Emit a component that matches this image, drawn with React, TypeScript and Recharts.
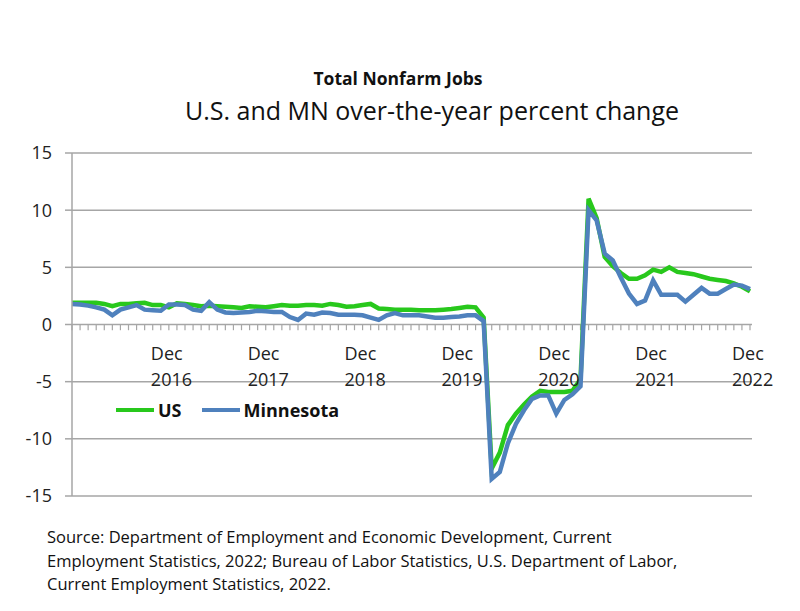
import { CartesianGrid, Legend, Line, LineChart, ReferenceDot, ReferenceLine, XAxis, YAxis } from "recharts"

const FONT = "'Open Sans', sans-serif"

const monthNames = ["Jan", "Feb", "Mar", "Apr", "May", "Jun", "Jul", "Aug", "Sep", "Oct", "Nov", "Dec"]
const years = [2016, 2017, 2018, 2019, 2020, 2021, 2022]
const months = ["Dec 2015", ...years.flatMap((y) => monthNames.map((m) => `${m} ${y}`))]

// over-the-year percent change, Dec 2015 .. Dec 2022
const us = [
  1.9, 1.9, 1.9, 1.9, 1.8, 1.6, 1.8, 1.8, 1.85, 1.9, 1.7, 1.7,
  1.5, 1.85, 1.8, 1.7, 1.6, 1.65, 1.6, 1.55, 1.5, 1.45, 1.6, 1.55,
  1.5, 1.6, 1.7, 1.65, 1.65, 1.7, 1.7, 1.65, 1.8, 1.7, 1.55, 1.6,
  1.7, 1.8, 1.4, 1.35, 1.3, 1.3, 1.3, 1.25, 1.25, 1.25, 1.3, 1.35,
  1.45, 1.55, 1.5, 0.6, -12.6, -11.2, -8.8, -7.8, -7.0, -6.3, -5.8, -5.9,
  -5.9, -5.9, -5.8, -4.8, 11.0, 9.3, 5.9, 5.1, 4.5, 4.0, 4.0, 4.3,
  4.8, 4.6, 5.0, 4.6, 4.5, 4.4, 4.2, 4.0, 3.9, 3.8, 3.6, 3.3,
  2.9,
]

const mn = [
  1.8, 1.75, 1.65, 1.5, 1.3, 0.8, 1.3, 1.5, 1.7, 1.3, 1.25, 1.2,
  1.75, 1.75, 1.7, 1.3, 1.2, 1.95, 1.3, 1.05, 1.0, 1.05, 1.1, 1.2,
  1.15, 1.1, 1.1, 0.65, 0.4, 0.95, 0.85, 1.05, 1.0, 0.85, 0.85, 0.85,
  0.8, 0.6, 0.4, 0.8, 1.0, 0.8, 0.8, 0.8, 0.7, 0.6, 0.6, 0.65,
  0.7, 0.8, 0.8, 0.3, -13.5, -12.9, -10.4, -8.7, -7.5, -6.5, -6.2, -6.2,
  -7.8, -6.6, -6.1, -5.4, 10.0, 9.1, 6.2, 5.6, 4.1, 2.7, 1.8, 2.1,
  3.85, 2.6, 2.6, 2.6, 2.0, 2.6, 3.2, 2.7, 2.7, 3.1, 3.5, 3.4,
  3.1,
]

const yTicks = [-15, -10, -5, 0, 5, 10, 15]
const labelMonths = ["Dec 2016", "Dec 2017", "Dec 2018", "Dec 2019", "Dec 2020", "Dec 2021", "Dec 2022"]

const sourceLines = [
  "Source: Department of Employment and Economic Development, Current",
  "Employment Statistics, 2022; Bureau of Labor Statistics, U.S. Department of Labor,",
  "Current Employment Statistics, 2022.",
]

const data = months.map((month, i) => ({ month, us: us[i], mn: mn[i] }))

const GREEN = "#28c81c"
const BLUE = "#4f81bd"
const GRID = "#a6a6a6"

function MonthLabel(props: any) {
  const { viewBox, text } = props
  const [m, y] = text.split(" ")
  const x = viewBox.x - 18
  return (
    <text x={x} y={viewBox.y + 35} fontFamily={FONT} fontSize={18} fill="#222">
      <tspan x={x}>{m}</tspan>
      <tspan x={x} dy={26}>{y}</tspan>
    </text>
  )
}

function LegendContent() {
  const items = [
    { name: "US", color: GREEN },
    { name: "Minnesota", color: BLUE },
  ]
  return (
    <div style={{ display: "flex", alignItems: "center", fontFamily: FONT, fontWeight: 700, fontSize: 18, color: "#111" }}>
      {items.map((it) => (
        <div key={it.name} style={{ display: "flex", alignItems: "center", marginRight: 20 }}>
          <span style={{ display: "inline-block", width: 38, height: 4, background: it.color, marginRight: 4 }} />
          <span>{it.name}</span>
        </div>
      ))}
    </div>
  )
}

export default function App() {
  return (
    <div style={{ position: "absolute", left: 0, top: 0, width: 800, height: 611, background: "#fff" }}>
      <LineChart
        width={800}
        height={611}
        data={data}
        margin={{ top: 153, right: 48, bottom: 115, left: 12 }}
      >
        <CartesianGrid horizontal vertical={false} stroke={GRID} strokeWidth={1.5} />
        <XAxis dataKey="month" hide padding={{ left: 0, right: 2 }} />
        <YAxis
          domain={[-15, 15]}
          ticks={yTicks}
          width={60}
          stroke={GRID}
          strokeWidth={1.5}
          tickSize={7}
          tickMargin={13}
          tick={{ fill: "#222", fontSize: 18, fontFamily: FONT }}
        />
        {months.map((m) => (
          <ReferenceLine
            key={m}
            segment={[{ x: m, y: 0 }, { x: m, y: -0.5 }]}
            stroke={GRID}
            strokeWidth={1.2}
          />
        ))}
        {labelMonths.map((m) => (
          <ReferenceDot
            key={m}
            x={m}
            y={0}
            r={0}
            fill="none"
            stroke="none"
            label={(p: any) => <MonthLabel {...p} text={m} />}
          />
        ))}
        <Line type="linear" dataKey="us" name="US" stroke={GREEN} strokeWidth={4.5} dot={false} isAnimationActive={false} />
        <Line type="linear" dataKey="mn" name="Minnesota" stroke={BLUE} strokeWidth={4.5} dot={false} isAnimationActive={false} />
        <Legend
          layout="horizontal"
          verticalAlign="middle"
          align="center"
          content={<LegendContent />}
          wrapperStyle={{ left: 116, top: 398, width: "auto" }}
        />
      </LineChart>
      <svg width={800} height={611} style={{ position: "absolute", left: 0, top: 0, pointerEvents: "none" }}>
        <text x={398} y={85} textAnchor="middle" fontFamily={FONT} fontWeight={700} fontSize={17.5} fill="#111">
          Total Nonfarm Jobs
        </text>
        <text x={432} y={120} textAnchor="middle" fontFamily={FONT} fontSize={25} fill="#111">
          U.S. and MN over-the-year percent change
        </text>
        {sourceLines.map((line, i) => (
          <text key={i} x={47} y={543 + i * 23.5} fontFamily={FONT} fontSize={16.5} fill="#111">
            {line}
          </text>
        ))}
      </svg>
    </div>
  )
}
